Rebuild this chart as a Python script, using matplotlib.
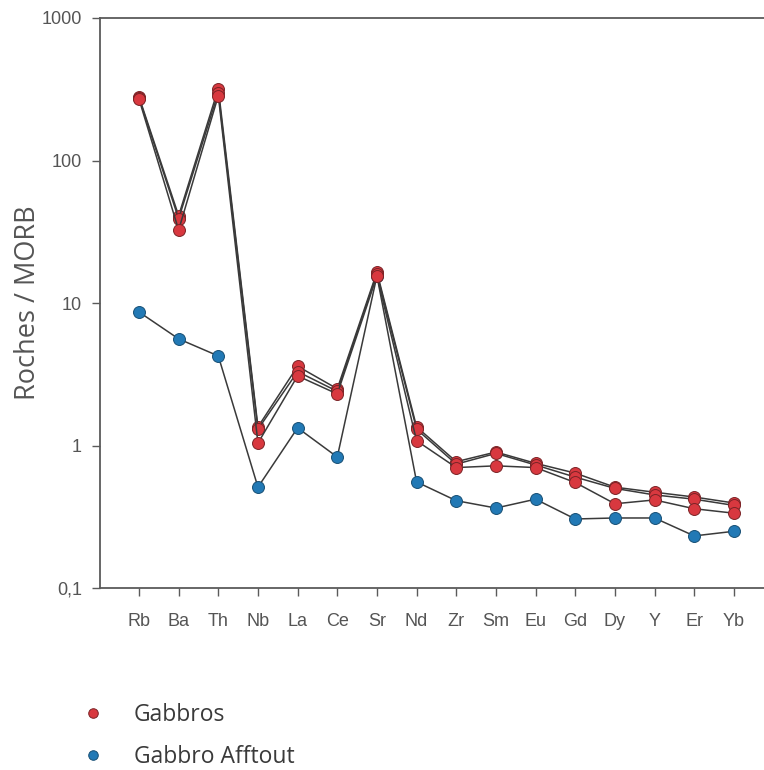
import matplotlib
matplotlib.use("Agg")
import matplotlib.pyplot as plt
from matplotlib.ticker import FixedLocator, FixedFormatter, NullLocator

elements = ["Rb", "Ba", "Th", "Nb", "La", "Ce", "Sr", "Nd", "Zr", "Sm",
            "Eu", "Gd", "Dy", "Y", "Er", "Yb"]

gabbro_a = [280, 41, 320, 1.35, 3.6, 2.5, 16.5, 1.35, 0.77, 0.90,
            0.75, 0.64, 0.51, 0.47, 0.435, 0.395]
gabbro_b = [275, 39, 300, 1.30, 3.3, 2.4, 16.0, 1.30, 0.74, 0.88,
            0.73, 0.60, 0.50, 0.45, 0.42, 0.38]
gabbro_c = [270, 32.5, 285, 1.04, 3.08, 2.3, 15.5, 1.08, 0.70, 0.72,
            0.70, 0.55, 0.39, 0.415, 0.36, 0.335]
afftout = [8.65, 5.6, 4.25, 0.51, 1.33, 0.83, 15.5, 0.555, 0.41, 0.364,
           0.42, 0.305, 0.31, 0.31, 0.232, 0.25]

ytick_vals = [0.1, 1, 10, 100, 1000]
ytick_labels = ["0,1", "1", "10", "100", "1000"]
legend_labels = ["Gabbros", "Gabbro Afftout"]

red = "#d8383f"
red_edge = "#7a2326"
blue = "#2279b5"
blue_edge = "#174f74"
line_col = "#3a3a3a"
tick_font = ["Liberation Sans Narrow", "Liberation Sans", "DejaVu Sans"]

fig = plt.figure(figsize=(7.64, 7.70), dpi=100)
ax = fig.add_axes([100/764, 1 - 588/770, 1 - 100/764, (588 - 18)/770])

x = list(range(len(elements)))
ms = 8.6
h_blue, = ax.plot(x, afftout, color=line_col, lw=1.1, marker="o", ms=ms,
                  mfc=blue, mec=blue_edge, mew=0.7, zorder=3)
h_red = None
for series in [gabbro_a, gabbro_b, gabbro_c]:
    h, = ax.plot(x, series, color=line_col, lw=1.1, marker="o", ms=ms,
                 mfc=red, mec=red_edge, mew=0.7, zorder=4)
    if h_red is None:
        h_red = h
handles = [h_red, h_blue]

ax.set_yscale("log")
ax.set_ylim(0.1, 1000)
ax.set_xlim(-0.983, 15.76)
ax.yaxis.set_major_locator(FixedLocator(ytick_vals))
ax.yaxis.set_major_formatter(FixedFormatter(ytick_labels))
ax.yaxis.set_minor_locator(NullLocator())
ax.set_xticks(x)
ax.set_xticklabels(elements)

for s in ["left", "bottom", "top"]:
    ax.spines[s].set_color("#5a5a5a")
    ax.spines[s].set_linewidth(1.3)
ax.spines["right"].set_visible(False)

ax.tick_params(axis="both", direction="out", length=6, width=1.0,
               colors="#5a5a5a", labelcolor="#555555")
ax.tick_params(axis="x", pad=12)
ax.tick_params(axis="y", pad=7)
for lab in ax.get_xticklabels() + ax.get_yticklabels():
    lab.set_family(tick_font)
    lab.set_fontsize(13)

ax.set_ylabel("Roches / MORB", family=["Open Sans", "DejaVu Sans"],
              fontsize=19.5, color="#555555")
ax.yaxis.set_label_coords(-0.088, 0.5)

leg = fig.legend(handles, legend_labels, loc="upper left",
                 bbox_to_anchor=(82/764, 1 - 692/770), frameon=False,
                 prop={"family": ["Open Sans", "DejaVu Sans"], "size": 16.5},
                 handlelength=0, handletextpad=1.75, labelspacing=0.75,
                 markerscale=0.8, borderpad=0)
for t in leg.get_texts():
    t.set_color("#3a3a3a")
for lh in leg.legend_handles:
    lh.set_linestyle("none")

fig.savefig("out.png", dpi=100)
